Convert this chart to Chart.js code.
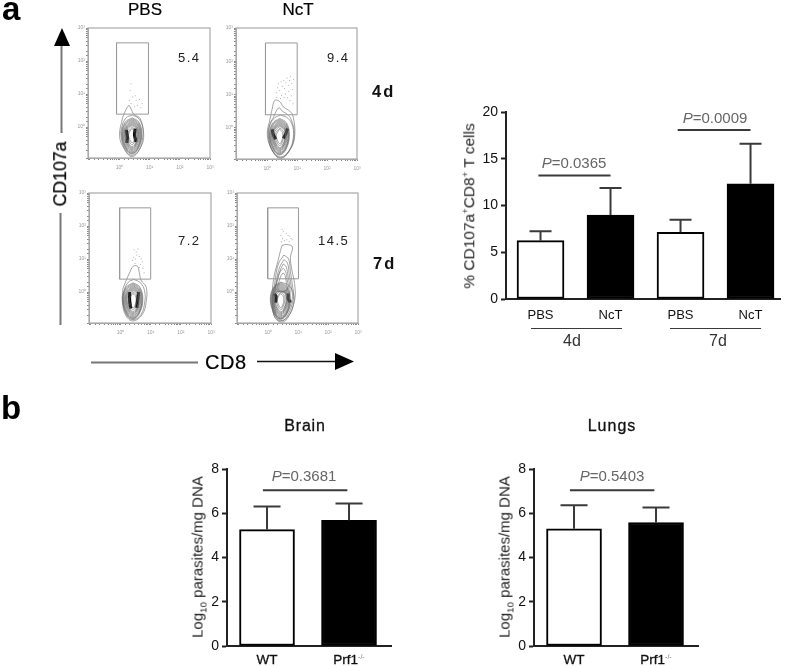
<!DOCTYPE html>
<html>
<head>
<meta charset="utf-8">
<title>CD107a flow panels and parasite load</title>
<script src="https://cdn.jsdelivr.net/npm/chart.js@4/dist/chart.umd.min.js"></script>
<style>
    html, body { margin: 0; padding: 0; background: #fff; }
    #page { position: relative; width: 787px; height: 666px; overflow: hidden; filter: blur(0.45px); }
    #page canvas { position: absolute; }
    #page svg { position: absolute; left: 0; top: 0; }
    .txt { position: absolute; white-space: nowrap; line-height: 1; font-family: "Liberation Sans", Arial, sans-serif; }
    .txt sup { font-size: 0.6em; line-height: 0; }
    .txt sub { font-size: 0.65em; line-height: 0; }
</style>
</head>
<body>
<div id="page">
    <svg width="787" height="666">
        <!-- CD107a and CD8 arrows -->
        <line x1="61.5" y1="133" x2="61.5" y2="44" stroke="#777" stroke-width="2"/>
        <line x1="60.5" y1="213" x2="60.5" y2="325" stroke="#777" stroke-width="2"/>
        <polygon points="62,28 54,46 70,46" fill="#000"/>
        <line x1="91" y1="362.5" x2="198" y2="362.5" stroke="#777" stroke-width="2"/>
        <line x1="257" y1="361.5" x2="337" y2="361.5" stroke="#111" stroke-width="1.5"/>
        <polygon points="354,361.5 335,353 335,370" fill="#000"/>
    </svg>
</div>
<script>
// Bar values
const timeCategories = ['PBS', 'NcT', 'PBS', 'NcT'];
const timeMeans = [6.24, 8.98, 7.13, 12.33];
const timeErrTops = [7.24, 11.87, 8.48, 16.6];
const timeTicks = [0, 5, 10, 15, 20];
const brainCategories = ['WT', 'Prf1<sup>-/-</sup>'];
const brainMeans = [5.26, 5.68];
const brainErrTops = [6.30, 6.44];
const lungMeans = [5.30, 5.58];
const lungErrTops = [6.36, 6.26];
const parasiteTicks = [0, 2, 4, 6, 8];

// Significance brackets, as [x, y]
const bracket4d = [[-0.03, 13.2], [1, 13.2]];
const bracket7d = [[1.96, 18.07], [3, 18.07]];
const bracketBrain = [[-0.05, 7.04], [0.98, 7.04]];
const bracketLung = [[-0.05, 7.04], [0.98, 7.04]];
const groupSpans = [[-0.136, 1.164], [1.85, 3.15]];

// Flow axes
const flowTicks = [1, 10, 100, 1000];
const flowTickLabels = ['10\u2070', '10\u00b9', '10\u00b2', '10\u00b3'];

// Contours and dots below are [log10 CD8, log10 CD107a]
const coreRings = [
    [[.42, .28], [.64, .15], [.74, -.22], [.63, -.64], [.42, -.82], [.21, -.68], [.07, -.24], [.18, .14]],
    [[.42, .25], [.63, .12], [.72, -.22], [.62, -.63], [.42, -.80], [.22, -.66], [.08, -.23], [.19, .11]],
    [[.42, .22], [.62, .09], [.71, -.22], [.61, -.62], [.42, -.78], [.23, -.65], [.10, -.23], [.21, .09]],
    [[.42, .19], [.61, .06], [.69, -.22], [.60, -.60], [.42, -.75], [.24, -.62], [.12, -.22], [.23, .06]],
    [[.42, .16], [.60, .04], [.67, -.22], [.58, -.57], [.42, -.72], [.26, -.59], [.14, -.22], [.25, .04]],
    [[.42, .13], [.58, .02], [.65, -.22], [.56, -.54], [.42, -.69], [.27, -.56], [.16, -.22], [.26, .02]],
    [[.42, .10], [.57, .00], [.63, -.22], [.55, -.52], [.42, -.66], [.28, -.54], [.18, -.22], [.27, .00]],
    [[.42, .07], [.56, -.02], [.61, -.22], [.54, -.50], [.42, -.63], [.30, -.52], [.20, -.22], [.28, -.02]],
    [[.42, .04], [.55, -.04], [.60, -.22], [.53, -.48], [.42, -.60], [.31, -.50], [.22, -.22], [.30, -.05]],
    [[.42, -.01], [.52, -.08], [.56, -.22], [.50, -.43], [.42, -.54], [.33, -.45], [.26, -.22], [.33, -.09]],
    [[.41, -.05], [.49, -.11], [.52, -.24], [.48, -.40], [.42, -.48], [.35, -.40], [.30, -.24], [.35, -.12]]
];
const pbs4dRings = [
    [[.10, .28], [.20, .50], [.31, .65], [.38, .55], [.48, .38], [.68, .26], [.80, -.22], [.72, -.58], [.42, -.90], [.14, -.64], [.00, -.25]],
    [[.42, .36], [.62, .27], [.76, .02], [.77, -.30], [.66, -.68], [.42, -.86], [.20, -.72], [.05, -.28], [.08, .02], [.22, .28]]
];
const nct4dRings = [
    [[.10, .30], [.16, .55], [.25, .82], [.40, .80], [.55, .62], [.75, .50], [.86, .35], [.92, -.20], [.80, -.60], [.45, -.93], [.15, -.65], [.00, -.20]],
    [[.20, .30], [.30, .50], [.40, .60], [.50, .50], [.65, .42], [.80, .25], [.90, -.20], [.76, -.66], [.45, -.90], [.16, -.68], [.03, -.22], [.08, .10]],
    [[.45, .38], [.70, .28], [.86, .00], [.86, -.35], [.72, -.70], [.44, -.88], [.18, -.70], [.05, -.25], [.10, .10], [.25, .30]]
];
const pbs7dRings = [
    [[.08, .10], [.20, .38], [.30, .58], [.42, .78], [.56, .78], [.62, .60], [.68, .36], [.85, .15], [.85, -.30], [.72, -.68], [.42, -.88], [.18, -.72], [.06, -.30]],
    [[.44, .38], [.66, .28], [.80, .02], [.80, -.32], [.68, -.68], [.42, -.84], [.20, -.70], [.08, -.28], [.12, .05], [.26, .30]]
];
const nct7dRings = [
    [[.46, 1.41], [.63, 1.44], [.81, 1.36], [.74, 1.06], [.79, .66], [.88, .25], [.88, -.25], [.63, -.81], [.41, -.91], [.19, -.71], [.13, -.15], [.19, .45], [.33, .96], [.41, 1.26]],
    [[.52, 1.12], [.68, 1.00], [.74, .62], [.80, .25], [.84, -.20], [.60, -.78], [.41, -.86], [.22, -.68], [.17, -.15], [.24, .42], [.34, .85]],
    [[.52, .98], [.64, .88], [.70, .55], [.76, .20], [.80, -.20], [.58, -.72], [.41, -.82], [.25, -.64], [.20, -.12], [.28, .38], [.38, .75]],
    [[.50, .85], [.60, .76], [.66, .48], [.72, .15], [.70, -.05], [.42, .02], [.24, .02], [.30, .35], [.40, .66]],
    [[.50, .72], [.58, .62], [.63, .38], [.66, .10], [.42, .00], [.26, .10], [.32, .40], [.40, .62]],
    [[.50, .58], [.56, .50], [.60, .30], [.62, .08], [.42, .02], [.32, .10], [.36, .32], [.43, .50]],
    [[.42, .30], [.68, .20], [.84, -.05], [.84, -.38], [.68, -.72], [.42, -.88], [.20, -.72], [.14, -.30], [.16, -.02], [.24, .20]]
];
const pbs4dFlecks = [[[.22, -.08], [.26, -.30], [.24, -.48]], [[.52, -.05], [.50, -.25], [.55, -.45]]];
const nct4dFlecks = [[[.16, -.05], [.20, -.20], [.28, -.35]], [[.68, -.02], [.62, -.18], [.54, -.32]]];
const pbs7dFlecks = [[[.30, .00], [.30, -.25], [.34, -.50]], [[.60, .00], [.57, -.22], [.54, -.48]]];
const nct7dFlecks = [[[.20, -.05], [.26, -.15], [.24, -.32]], [[.68, -.05], [.66, -.18], [.74, -.32]]];
const pbs4dDots = [[.38, 1.31], [.35, 1.11], [.44, .91], [.55, .81], [.66, .83], [.75, .71], [.49, .61], [.33, .81], [.71, .58], [.60, .66], [.38, .71], [.52, .95]];
const nct4dDots = [[.30, 1.05], [.38, 1.32], [.42, 1.12], [.46, 1.38], [.50, 1.25], [.55, 1.42], [.58, 1.18], [.62, 1.35], [.66, 1.50], [.70, 1.28], [.74, 1.42], [.78, 1.55], [.82, 1.34], [.34, 1.20], [.48, .98], [.60, 1.02], [.72, 1.10], [.84, 1.15], [.88, 1.46], [.44, .88], [.56, .92], [.68, .90], [.76, .82], [.86, .72], [.32, .92], [.80, .96]];
const pbs7dDots = [[.45, 1.28], [.52, 1.22], [.58, 1.30], [.44, 1.05], [.50, 1.00], [.62, 1.08], [.68, 1.00], [.72, .92], [.48, .86], [.66, .84], [.74, .72], [.78, .58], [.62, .74], [.40, .96], [.54, 1.12]];
const nct7dDots = [[.46, 1.90], [.50, 1.84], [.42, 1.72], [.48, 1.62], [.44, 1.52], [.60, 1.78], [.66, 1.72], [.72, 1.70], [.76, 1.62], [.62, 1.58], [.70, 1.52], [.54, 1.55], [.80, 1.58]];
const gatePbs4d = [[-.10, .39], [.96, .39], [.96, 2.55], [-.10, 2.55]];
const gateNct4d = [[-.06, .39], [1.00, .39], [1.00, 2.55], [-.06, 2.55]];
const gatePbs7d = [[-.03, .39], [1.00, .39], [1.00, 2.55], [-.03, 2.55]];
const gateNct7d = [[-.02, .40], [1.01, .40], [1.01, 2.55], [-.02, 2.55]];

Chart.defaults.font.family = '"Liberation Sans", Arial, sans-serif';
Chart.defaults.animation = false;
Chart.defaults.responsive = false;

const page = document.getElementById('page');

// baseline text, x is the anchor given by align
function addText(html, x, baseline, size, opts = {}) {
    const el = document.createElement('div');
    el.className = 'txt';
    el.innerHTML = html;
    el.style.fontSize = size + 'px';
    el.style.color = opts.color || '#111';
    if (opts.bold) el.style.fontWeight = 'bold';
    if (opts.spacing) el.style.letterSpacing = opts.spacing + 'px';
    if (opts.stroke) el.style.webkitTextStroke = opts.stroke + 'px currentColor';
    if (opts.rotate) {
        // x, baseline here is the centre of the rotated text
        el.style.left = x + 'px';
        el.style.top = baseline + 'px';
        el.style.transform = 'translate(-50%, -50%) rotate(-90deg)';
    } else {
        el.style.left = x + 'px';
        el.style.top = (baseline - 0.8465 * size) + 'px';
        if (opts.center) el.style.transform = 'translateX(-50%)';
    }
    page.appendChild(el);
}

// Canvas placed so the chart area lands on the box
function addCanvas(box, pad) {
    const c = document.createElement('canvas');
    c.width = box.r - box.l + pad.l + pad.r;
    c.height = box.b - box.t + pad.t + pad.b;
    c.style.left = (box.l - pad.l) + 'px';
    c.style.top = (box.t - pad.t) + 'px';
    page.appendChild(c);
    return c;
}

function fixWidth(w) {
    return function(scale) {
        scale.width = w;
        scale.paddingTop = scale.paddingBottom = scale.paddingLeft = scale.paddingRight = 0;
    };
}

function fixHeight(h) {
    return function(scale) {
        scale.height = h;
        scale.paddingTop = scale.paddingBottom = scale.paddingLeft = scale.paddingRight = 0;
    };
}

const toPoint = p => ({ x: 10 ** p[0], y: 10 ** p[1] });
const closeRing = r => r.concat([r[0]]);

const framePlugin = {
    id: 'frame',
    afterDraw(chart) {
        const a = chart.chartArea;
        const ctx = chart.ctx;
        ctx.save();
        ctx.strokeStyle = '#a8a8a8';
        ctx.lineWidth = 1.2;
        ctx.strokeRect(a.left, a.top, a.right - a.left, a.bottom - a.top);
        ctx.restore();
    }
};

function flowPanel(box, rings, flecks, dots, gate) {
    const pad = { l: 30, r: 10, t: 6, b: 20 };
    const datasets = [];
    datasets.push({
        data: closeRing(gate).map(toPoint), showLine: true, borderColor: '#999', borderWidth: 1,
        pointRadius: 0, tension: 0
    });
    rings.concat(coreRings).forEach(r => {
        datasets.push({
            data: closeRing(r).map(toPoint), showLine: true, borderColor: '#666', borderWidth: 0.6,
            pointRadius: 0, tension: 0.4
        });
    });
    flecks.forEach(f => {
        datasets.push({
            data: f.map(toPoint), showLine: true, borderColor: '#000', borderWidth: 3.2,
            pointRadius: 0, tension: 0.3
        });
    });
    datasets.push({ data: dots.map(toPoint), pointRadius: 0.5, pointBackgroundColor: '#999', pointBorderWidth: 0 });

    const axisTicks = {
        autoSkip: false, maxRotation: 0, color: '#999', font: { size: 5 },
        callback: function(value) {
            const i = flowTicks.findIndex(t => Math.abs(t - value) < t * 1e-6);
            return i < 0 ? '' : flowTickLabels[i];
        }
    };
    new Chart(addCanvas(box, pad), {
        type: 'scatter',
        data: { datasets: datasets },
        options: {
            layout: { padding: { left: 0, right: pad.r, top: pad.t, bottom: 0 } },
            plugins: { legend: { display: false }, tooltip: { enabled: false } },
            scales: {
                x: {
                    type: 'logarithmic', min: 0.09, max: 1000,
                    grid: { drawOnChartArea: false, tickLength: 2, tickColor: '#888', tickWidth: 1 },
                    border: { color: '#a8a8a8', width: 1 },
                    ticks: Object.assign({ padding: 5 }, axisTicks),
                    afterFit: fixHeight(pad.b)
                },
                y: {
                    type: 'logarithmic', min: 0.115, max: 1000,
                    grid: { drawOnChartArea: false, tickLength: 2, tickColor: '#888', tickWidth: 1 },
                    border: { color: '#a8a8a8', width: 1 },
                    ticks: Object.assign({ padding: 1 }, axisTicks),
                    afterFit: fixWidth(pad.l)
                }
            }
        },
        plugins: [framePlugin]
    });
}

// Error bars, placed through the chart's own scales
const errorBarPlugin = {
    id: 'errorBars',
    afterDatasetsDraw(chart, args, opts) {
        const ctx = chart.ctx;
        const sx = chart.scales.x, sy = chart.scales.y;
        ctx.save();
        ctx.strokeStyle = '#3a3a3a';
        ctx.lineWidth = 2;
        opts.tops.forEach((top, i) => {
            const x = sx.getPixelForValue(i);
            ctx.beginPath();
            ctx.moveTo(x, sy.getPixelForValue(opts.means[i]));
            ctx.lineTo(x, sy.getPixelForValue(top));
            ctx.moveTo(x - opts.cap / 2, sy.getPixelForValue(top));
            ctx.lineTo(x + opts.cap / 2, sy.getPixelForValue(top));
            ctx.stroke();
        });
        (opts.spans || []).forEach(s => {
            ctx.beginPath();
            ctx.moveTo(sx.getPixelForValue(s[0]), sy.bottom + opts.spanDrop);
            ctx.lineTo(sx.getPixelForValue(s[1]), sy.bottom + opts.spanDrop);
            ctx.stroke();
        });
        ctx.restore();
    }
};

function barPanel(box, cfg) {
    const pad = { l: 40, r: 5, t: 6, b: 30 };
    const datasets = [{
        type: 'bar',
        data: cfg.means.map((v, i) => ({ x: i, y: v })),
        barThickness: cfg.barWidth,
        backgroundColor: ctx => ctx.dataIndex % 2 ? '#000' : '#fff',
        borderColor: '#000',
        borderWidth: 2,
        borderSkipped: false
    }];
    cfg.brackets.forEach(b => {
        datasets.push({
            type: 'line',
            data: b.map(p => ({ x: p[0], y: p[1] })),
            borderColor: '#3a3a3a', borderWidth: 2, pointRadius: 0
        });
    });
    return new Chart(addCanvas(box, pad), {
        type: 'bar',
        data: { datasets: datasets },
        options: {
            layout: { padding: { left: 0, right: pad.r, top: pad.t, bottom: 0 } },
            plugins: {
                legend: { display: false },
                tooltip: { enabled: false },
                errorBars: { tops: cfg.tops, means: cfg.means, cap: cfg.cap, spans: cfg.spans, spanDrop: 30 }
            },
            scales: {
                x: {
                    type: 'linear', min: cfg.xMin, max: cfg.xMax, offset: false,
                    grid: { display: false, offset: false, drawTicks: false },
                    border: { color: '#222', width: 2 },
                    afterBuildTicks: axis => { axis.ticks = cfg.labels.map((l, i) => ({ value: i })); },
                    ticks: {
                        display: cfg.showXLabels, padding: 9, autoSkip: false, maxRotation: 0,
                        color: '#111', font: { size: 13 },
                        callback: value => cfg.labels[value]
                    },
                    afterFit: fixHeight(pad.b)
                },
                y: {
                    min: 0, max: cfg.yTicks[cfg.yTicks.length - 1],
                    grid: { drawOnChartArea: false, tickLength: 5, tickColor: '#222', tickWidth: 2 },
                    border: { color: '#222', width: 2 },
                    afterBuildTicks: axis => { axis.ticks = cfg.yTicks.map(v => ({ value: v })); },
                    ticks: { padding: 3, color: '#111', font: { size: 14 } },
                    afterFit: fixWidth(pad.l)
                }
            }
        },
        plugins: [errorBarPlugin]
    });
}

flowPanel({ l: 88, r: 210, t: 28, b: 158 }, pbs4dRings, pbs4dFlecks, pbs4dDots, gatePbs4d);
flowPanel({ l: 236, r: 357, t: 28, b: 159 }, nct4dRings, nct4dFlecks, nct4dDots, gateNct4d);
flowPanel({ l: 89, r: 211, t: 193, b: 323 }, pbs7dRings, pbs7dFlecks, pbs7dDots, gatePbs7d);
flowPanel({ l: 237, r: 358, t: 193, b: 323 }, nct7dRings, nct7dFlecks, nct7dDots, gateNct7d);

barPanel({ l: 506, r: 780, t: 112, b: 299 }, {
    means: timeMeans, tops: timeErrTops, labels: timeCategories, yTicks: timeTicks,
    xMin: -0.493, xMax: 3.421, barWidth: 47, cap: 22, showXLabels: true,
    brackets: [bracket4d, bracket7d], spans: groupSpans
});
const brainChart = barPanel({ l: 227, r: 391, t: 469, b: 646 }, {
    means: brainMeans, tops: brainErrTops, labels: brainCategories, yTicks: parasiteTicks,
    xMin: -0.488, xMax: 1.512, barWidth: 55, cap: 27, showXLabels: false,
    brackets: [bracketBrain]
});
const lungChart = barPanel({ l: 534, r: 698, t: 469, b: 646 }, {
    means: lungMeans, tops: lungErrTops, labels: brainCategories, yTicks: parasiteTicks,
    xMin: -0.488, xMax: 1.512, barWidth: 55, cap: 27, showXLabels: false,
    brackets: [bracketLung]
});

// Category labels with the superscript go in as text, at the scale's positions
[brainChart, lungChart].forEach(chart => {
    const left = parseFloat(chart.canvas.style.left);
    brainCategories.forEach((label, i) => {
        const html = label.replace('<sup>', '<sup style="color:#777;font-size:7px;-webkit-text-stroke:0">');
        addText(html, left + chart.scales.x.getPixelForValue(i), 664, 13.5, { center: true, stroke: 0.3 });
    });
});

// Panel text
addText('a', 2, 20, 33, { bold: true, color: '#000' });
addText('b', 1, 419, 33, { bold: true, color: '#000' });
addText('PBS', 145, 15, 17, { center: true, color: '#000', stroke: 0.2 });
addText('NcT', 298, 15, 17, { center: true, color: '#000', stroke: 0.2 });
addText('4d', 372, 97, 16.5, { bold: true, spacing: 2 });
addText('7d', 373, 269, 16.5, { bold: true, spacing: 2 });
addText('5.4', 178, 62, 13, { spacing: 1.5, color: '#222' });
addText('9.4', 327, 62, 13, { spacing: 1.5, color: '#222' });
addText('7.2', 178, 245, 13, { spacing: 1.5, color: '#222' });
addText('14.5', 318, 245, 13, { spacing: 1.5, color: '#222' });
addText('CD107a', 61, 174, 17.7, { rotate: true, color: '#000', stroke: 0.2 });
addText('CD8', 205, 369, 20, { color: '#000', spacing: 0.5, stroke: 0.2 });
addText('% CD107a<sup>+</sup>CD8<sup>+</sup> T cells', 469, 206, 15.5, { rotate: true, color: '#222' });
addText('<i>P</i>=0.0365', 574, 168, 15, { center: true, color: '#666' });
addText('<i>P</i>=0.0009', 715, 123, 15, { center: true, color: '#666' });
addText('4d', 572, 347, 16, { center: true, color: '#333' });
addText('7d', 718, 347, 16, { center: true, color: '#333' });
addText('Brain', 305, 432, 16, { center: true, spacing: 0.8, color: '#111', stroke: 0.3 });
addText('Lungs', 612, 432, 16, { center: true, spacing: 1, color: '#111', stroke: 0.3 });
addText('<i>P</i>=0.3681', 304, 481, 15, { center: true, color: '#666' });
addText('<i>P</i>=0.5403', 612, 481, 15, { center: true, color: '#666' });
addText('Log<sub>10</sub> parasites/mg DNA', 197, 557, 15, { rotate: true, color: '#222' });
addText('Log<sub>10</sub> parasites/mg DNA', 504, 557, 15, { rotate: true, color: '#222' });
</script>
</body>
</html>
